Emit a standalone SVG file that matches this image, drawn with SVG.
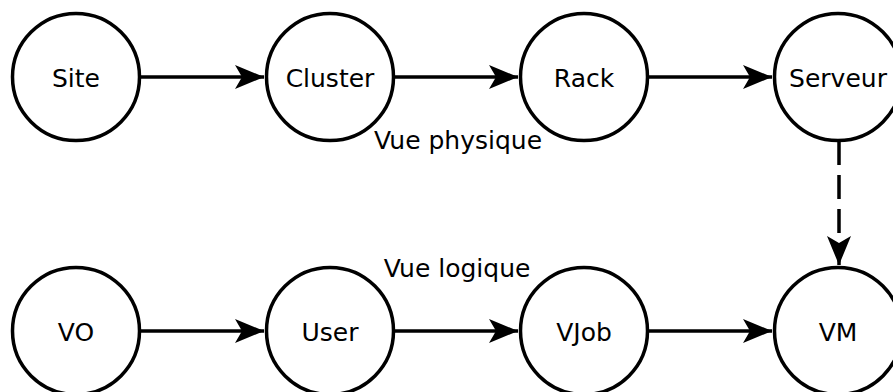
<svg xmlns="http://www.w3.org/2000/svg" width="893" height="392" viewBox="0 0 893 392">
<style>
.n circle{fill:#fff;stroke:#000;stroke-width:3.5}
.n text{font-family:"DejaVu Sans",sans-serif;font-size:25px;text-anchor:middle;fill:#000}
.lbl{font-family:"DejaVu Sans",sans-serif;font-size:25px;text-anchor:middle;fill:#000}
.e{stroke:#000;stroke-width:3.5;fill:none}
</style>
<defs>
<marker id="ah" markerUnits="userSpaceOnUse" markerWidth="32" markerHeight="28" viewBox="-30 -14 32 28" refX="0" refY="0" orient="auto">
<path d="M0,0 L-29,-12 L-22,0 L-29,12 Z" fill="#000"/>
</marker>
</defs>
<g id="connectors">
<line class="e" x1="140" y1="77" x2="264" y2="77" marker-end="url(#ah)"/>
<line class="e" x1="394" y1="77" x2="518" y2="77" marker-end="url(#ah)"/>
<line class="e" x1="648" y1="77" x2="772" y2="77" marker-end="url(#ah)"/>
<line class="e" x1="140" y1="331" x2="264" y2="331" marker-end="url(#ah)"/>
<line class="e" x1="394" y1="331" x2="518" y2="331" marker-end="url(#ah)"/>
<line class="e" x1="648" y1="331" x2="772" y2="331" marker-end="url(#ah)"/>
<line class="e" x1="839" y1="141" x2="839" y2="265" stroke-dasharray="24 10" marker-end="url(#ah)"/>
</g>
<g id="site" class="n"><circle cx="76" cy="77" r="63.5"/><text x="76" y="87">Site</text></g>
<g id="cluster" class="n"><circle cx="330" cy="77" r="63.5"/><text x="330" y="87">Cluster</text></g>
<g id="rack" class="n"><circle cx="584" cy="77" r="63.5"/><text x="584" y="87">Rack</text></g>
<g id="serveur" class="n"><circle cx="838" cy="77" r="63.5"/><text x="838" y="87">Serveur</text></g>
<g id="vo" class="n"><circle cx="76" cy="331" r="63.5"/><text x="76" y="341">VO</text></g>
<g id="user" class="n"><circle cx="330" cy="331" r="63.5"/><text x="330" y="341">User</text></g>
<g id="vjob" class="n"><circle cx="584" cy="331" r="63.5"/><text x="584" y="341">VJob</text></g>
<g id="vm" class="n"><circle cx="838" cy="331" r="63.5"/><text x="838" y="341">VM</text></g>
<text class="lbl" x="458" y="149">Vue physique</text>
<text class="lbl" x="457" y="277">Vue logique</text>
</svg>
